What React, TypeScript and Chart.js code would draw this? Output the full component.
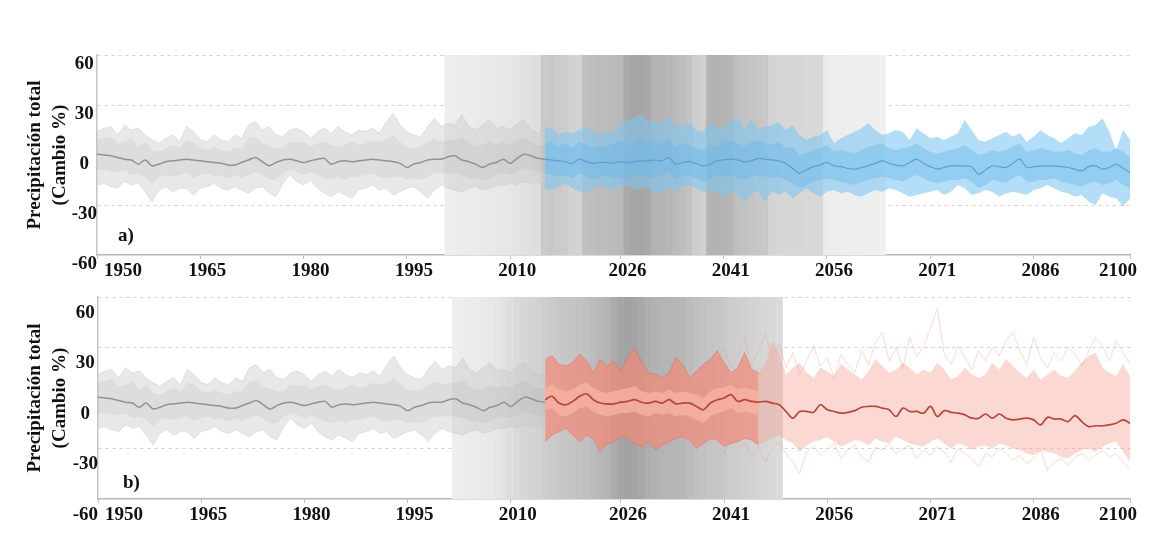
import React, { useEffect, useRef } from 'react';
import { Chart, registerables } from 'chart.js';

Chart.register(...registerables);

const FONT = '"Liberation Serif", "Times New Roman", serif';

// ---- categories / ticks ----
const HIST_START = 1950;
const PROJ_START = 2015;
const TICK_YEARS = [1950, 1965, 1980, 1995, 2010, 2026, 2041, 2056, 2071, 2086, 2100];
const Y_TITLE = ['Precipitación total', '(Cambio %)'];
const PANEL_LETTERS = ['a)', 'b)'];

// ---- historical ensemble (1950-2015) ----
const HIST_UP = [
  14, 16, 17, 12, 18, 15, 16, 12, 9, 7,
  10, 12, 8, 17, 14, 9, 8, 12, 9, 8,
  12, 10, 18, 20, 15, 17, 12, 11, 15, 16,
  14, 10, 14, 16, 13, 17, 14, 12, 15, 14,
  16, 13, 20, 25, 18, 14, 12, 11, 17, 22,
  17, 19, 18, 24, 17, 15, 18, 21, 16, 17,
  15, 19, 21, 16, 13, 15,
];
const HIST_LO = [
  -18, -17, -19, -20, -16, -18, -17, -22, -28, -21,
  -19, -22, -20, -20, -24, -20, -19, -17, -20, -21,
  -19, -21, -23, -20, -19, -23, -25, -17, -12, -16,
  -18, -15, -20, -23, -25, -22, -24, -26, -21, -20,
  -18, -21, -20, -24, -22, -20, -19, -22, -26, -21,
  -18, -20, -21, -22, -20, -19, -21, -20, -18, -18,
  -17, -18, -16, -17, -16, -18,
];
const HIST_IN_UP = [
  9, 10, 11, 7, 8, 10, 5, 8, 3, 2,
  4, 6, 4, 9, 8, 4, 3, 5, 3, 2,
  4, 4, 10, 11, 7, 6, 4, 4, 8, 7,
  8, 5, 7, 8, 6, 5, 6, 8, 6, 7,
  9, 8, 9, 12, 8, 5, 4, 5, 8, 10,
  8, 9, 9, 11, 7, 5, 6, 8, 6, 8,
  6, 9, 10, 8, 6, 6,
];
const HIST_IN_LO = [
  -9, -9, -10, -10, -9, -12, -11, -13, -17, -13,
  -12, -13, -12, -11, -14, -12, -11, -13, -12, -14,
  -12, -14, -12, -10, -12, -15, -15, -11, -9, -10,
  -12, -10, -12, -14, -15, -13, -15, -13, -13, -12,
  -11, -13, -14, -13, -13, -15, -14, -15, -13, -11,
  -11, -11, -11, -12, -14, -14, -15, -14, -12, -11,
  -12, -10, -8, -9, -10, -11,
];
const HIST_MED = [
  0.5, 0, -0.5, -1.5, -2.5, -3, -5.5, -3, -6.5, -5.5,
  -4, -3.5, -3, -2.5, -3, -3.5, -4, -4.5, -5, -6,
  -6, -4.5, -3, -1.5, -4, -6.5, -4.5, -3, -2.5, -3.5,
  -4.5, -3.5, -2.5, -2, -5.5, -4, -3.5, -4, -3.5, -3,
  -2.5, -3, -3.5, -4, -5, -7.5, -5.5, -4.5, -3, -2.5,
  -2.5, -1, -0.5, -3, -4, -5.5, -7.5, -5.5, -4.5, -2.5,
  -5, -2, 0.5, -0.5, -2, -2.5,
];

// ---- panel a projection (2015-2100) ----
const BLUE_UP = [
  17, 16, 12, 14, 13, 15, 17, 14, 12, 15,
  13, 18, 21, 22, 25, 20, 21, 18, 23, 18,
  17, 19, 15, 14, 19, 16, 17, 20, 23, 15,
  21, 16, 17, 18, 20, 15, 18, 12, 9, 11,
  12, 15, 7, 10, 12, 14, 16, 19, 15, 12,
  13, 15, 14, 9, 16, 13, 10, 11, 9, 11,
  13, 21, 15, 9, 8, 10, 12, 14, 11, 13,
  8, 11, 15, 12, 10, 7, 10, 13, 12, 17,
  18, 22, 14, 3, 15, 9,
];
const BLUE_LO = [
  -20, -21, -19, -17, -20, -22, -23, -20, -18, -20,
  -21, -19, -18, -21, -20, -19, -24, -22, -20, -22,
  -19, -18, -20, -22, -21, -23, -25, -22, -24, -28,
  -24, -21, -28, -22, -24, -22, -26, -23, -20, -23,
  -25, -22, -21, -23, -22, -24, -25, -23, -21, -22,
  -20, -21, -23, -25, -24, -23, -22, -21, -24, -22,
  -18, -20, -24, -23, -21, -22, -25, -23, -22, -23,
  -24, -21, -20, -18, -20, -22, -23, -25, -24, -28,
  -30, -23, -25, -26, -31, -26,
];
const BLUE_IN_UP = [
  6, 8, 5, 7, 4, 8, 6, 4, 6, 5,
  7, 9, 6, 8, 11, 7, 9, 6, 10, 5,
  7, 6, 4, 3, 6, 5, 8, 9, 7, 5,
  8, 9, 7, 6, 8, 4, 5, 0, 1, 3,
  4, 6, 2, 3, 2, 1, 3, 5, 6, 7,
  4, 3, 4, 5, 7, 4, 2, 1, 2, 3,
  4, 6, 3, 0, 1, 3, 2, 3, 5, 7,
  2, 3, 4, 3, 2, 2, 3, 1, 0, 3,
  4, 2, 2, 4, 2, -1,
];
const BLUE_IN_LO = [
  -11, -12, -13, -12, -14, -11, -13, -15, -13, -12,
  -14, -13, -15, -12, -11, -13, -14, -12, -10, -15,
  -13, -12, -14, -16, -15, -12, -13, -12, -14, -15,
  -13, -12, -13, -14, -13, -15, -17, -20, -18, -16,
  -15, -14, -15, -16, -17, -18, -16, -15, -14, -13,
  -14, -15, -16, -14, -12, -14, -16, -17, -16, -15,
  -15, -14, -16, -20, -18, -15, -16, -17, -14, -12,
  -16, -16, -15, -15, -14, -16, -17, -18, -19, -17,
  -16, -18, -17, -15, -18, -20,
];
const BLUE_MED = [
  -2.5, -3, -3.5, -4, -5, -2.5, -4, -5, -4.5, -4.5,
  -5, -4, -4.5, -4, -3.5, -3.5, -3, -3.5, -1.5, -5.5,
  -4.5, -4, -5, -6.5, -5.5, -3.5, -3, -2.5, -3, -4,
  -3.5, -2, -2.5, -3, -3.5, -5, -8, -11, -9, -7,
  -6, -4.5, -6.5, -7, -8, -8.5, -7.5, -6.5, -5, -3.5,
  -5, -6, -6.5, -4.5, -2.5, -5, -7, -8.5, -7.5, -6.5,
  -6.5, -6.5, -7, -11.5, -9, -6.5, -7, -7.5, -5, -2.5,
  -7.5, -7, -6.5, -6.5, -6.5, -7, -7.5, -8.5, -9.5, -7,
  -6.5, -8.5, -7.5, -5.5, -8, -10.5,
];

// ---- panel b projection (2015-2100) ----
const RED_UP = [
  23, 25, 20, 19, 21, 26, 22, 15, 23, 19,
  22, 16, 24, 30, 21, 15, 14, 12, 15, 24,
  20, 12, 16, 20, 23, 28, 21, 15, 18, 27,
  17, 15, 20, 34, 27, 14, 18, 21, 15, 12,
  18, 16, 13, 20, 17, 14, 11, 16, 23, 19,
  15, 17, 21, 18, 14, 17, 15, 21, 17, 11,
  13, 18, 14, 12, 14, 21, 17, 23, 19, 15,
  12, 17, 11, 14, 17, 13, 12, 16, 21, 25,
  27, 18, 15, 13, 20, 13,
];
const RED_LO = [
  -26, -22, -20, -18, -22, -26, -22, -24, -32, -27,
  -26, -23, -24, -27, -29, -26, -31, -28, -26, -24,
  -23, -25, -30, -27, -24, -25, -29, -27, -26, -24,
  -25, -28, -26, -24, -22, -25, -27, -32, -28, -26,
  -25, -23, -26, -29, -27, -25, -26, -28, -24, -26,
  -27, -23, -25, -27, -28, -29, -26, -24, -27, -30,
  -27, -28, -31, -29, -28, -30, -27, -28, -30, -31,
  -33, -34, -31, -32, -33, -35, -36, -33, -31, -30,
  -32, -29, -27, -26, -32, -38,
];
const RED_MED = [
  -1, 1, -3, -4, -2, 1, 2.5, -1, -3, -3.5,
  -3.5, -2.5, -2, -1, -2.5, -3, -2, -3, -1, -3.5,
  -3, -3, -5, -7, -3, -1, 0, 2, -2, -1,
  -2, -2.5, -2, -3, -4, -8, -12, -8, -8, -8.5,
  -4, -7, -8, -9, -8.5, -7.5, -5.5, -5, -5, -6,
  -7, -11, -6, -8, -8, -9, -5, -11, -7.5, -8.5,
  -9, -10, -12, -12, -9.5, -12, -9.5, -12, -13, -12.5,
  -12, -13, -16, -11.5, -12.5, -12.5, -14, -10.5, -14, -17,
  -16.5, -16.5, -16, -15, -13, -15,
];
// near-term (2015-2046) central band
const RED_MID_UP = [
  6, 8, 5, 4, 5, 8, 9, 6, 4, 3,
  4, 5, 6, 7, 4, 3, 4, 3, 5, 3,
  4, 3, 2, 0, 4, 6, 6, 8, 5, 6,
  5, 4,
];
const RED_MID_LO = [
  -7, -6, -10, -11, -9, -6, -5, -8, -10, -11,
  -10, -9, -9, -8, -10, -11, -9, -10, -9, -11,
  -10, -11, -13, -15, -11, -9, -8, -6, -9, -8,
  -9, -10,
];
const NEAR_END = 2046;
// extreme members (2040-2100)
const MEMBER_START = 2040;
const RED_MAX_MEMBER = [
  22, 30, 18, 25, 35, 20, 28, 38, 24, 32,
  18, 27, 14, 22, 31, 19, 24, 12, 26, 20,
  15, 28, 20, 33, 39, 22, 30, 18, 36, 25,
  30, 42, 53, 26, 20, 31, 24, 17, 28, 22,
  30, 25, 34, 39, 28, 20, 36, 24, 18, 27,
  22, 30, 26, 19, 28, 36, 31, 22, 34, 27,
  20,
];
const RED_MIN_MEMBER = [
  -28, -33, -25, -30, -27, -35, -29, -38, -30, -26,
  -33, -38, -45, -32, -28, -34, -30, -27, -36, -31,
  -28, -35, -38, -29, -31, -27, -33, -30, -28, -36,
  -31, -34, -29, -32, -38, -30, -33, -36, -41, -33,
  -35, -30, -33, -37, -34, -39, -36, -31, -43, -38,
  -36, -40, -35, -33, -37, -34, -31, -35, -33, -38,
  -43,
];

// ---- background shading (grey level per year) ----
const SHADE_A_START = 2001;
const SHADE_A = [
  238, 237, 236, 236, 235, 234, 233, 232, 231, 230,
  228, 226, 224, 222, 202, 200, 202, 204, 210, 212,
  192, 190, 188, 188, 186, 184, 170, 166, 165, 168,
  178, 180, 182, 186, 190, 194, 205, 208, 180, 178,
  180, 182, 192, 194, 196, 198, 200, 212, 213, 214,
  214, 214, 215, 215, 216, 236, 237, 237, 238, 238,
  238, 239, 239, 240,
];
const SHADE_B_START = 2002;
const SHADE_B = [
  238, 237, 236, 235, 234, 232, 230, 226, 222, 218,
  214, 212, 210, 206, 202, 200, 198, 196, 194, 192,
  188, 184, 180, 172, 166, 162, 164, 168, 174, 178,
  180, 180, 182, 184, 188, 192, 194, 196, 198, 200,
  204, 206, 208, 210, 212, 214, 216, 218,
];

const pts = (start: number, vals: number[]) => vals.map((y, i) => ({ x: start + i, y }));
const NONE = 'rgba(0,0,0,0)';

function band(start: number, up: number[], lo: number[], fillColor: string, order: number, edge?: string) {
  const bw = edge ? 1 : 0;
  return [
    { type: 'line', data: pts(start, up), fill: '+1', backgroundColor: fillColor, borderColor: edge || NONE, borderWidth: bw, pointRadius: 0, tension: 0, order },
    { type: 'line', data: pts(start, lo), fill: false, backgroundColor: NONE, borderColor: edge || NONE, borderWidth: bw, pointRadius: 0, tension: 0, order },
  ];
}
function line(start: number, vals: number[], color: string, width: number, order: number, tension = 0) {
  return { type: 'line', data: pts(start, vals), fill: false, borderColor: color, borderWidth: width, pointRadius: 0, tension, order };
}
function shading(start: number, levels: number[]) {
  return {
    type: 'bar',
    data: levels.map((_, i) => ({ x: start + i, y: [-60, 60] })),
    backgroundColor: levels.map((g) => `rgb(${g},${g},${g})`),
    borderWidth: 0,
    barPercentage: 1,
    categoryPercentage: 1,
    order: 100,
  };
}

function histSets() {
  return [
    ...band(HIST_START, HIST_UP, HIST_LO, 'rgba(200,200,200,0.42)', 90, 'rgba(190,190,190,0.35)'),
    ...band(HIST_START, HIST_IN_UP, HIST_IN_LO, 'rgba(175,175,175,0.2)', 85),
    line(HIST_START, HIST_MED, '#939393', 1.5, 80, 0.3),
  ];
}

function datasetsA() {
  return [
    shading(SHADE_A_START, SHADE_A),
    ...histSets(),
    ...band(PROJ_START, BLUE_UP, BLUE_LO, 'rgba(125,198,242,0.58)', 70),
    ...band(PROJ_START, BLUE_IN_UP, BLUE_IN_LO, 'rgba(100,182,236,0.4)', 60),
    line(PROJ_START, BLUE_MED, '#5d9ed2', 1.2, 50, 0.3),
  ];
}
function datasetsB() {
  const n = NEAR_END - PROJ_START + 1;
  return [
    shading(SHADE_B_START, SHADE_B),
    ...histSets(),
    ...band(PROJ_START, RED_UP, RED_LO, 'rgba(246,165,148,0.42)', 70),
    ...band(PROJ_START, RED_UP.slice(0, n), RED_LO.slice(0, n), 'rgba(240,125,105,0.5)', 65, 'rgba(220,100,90,0.45)'),
    ...band(PROJ_START, RED_MID_UP, RED_MID_LO, 'rgba(248,180,165,0.75)', 60),
    line(MEMBER_START, RED_MAX_MEMBER, 'rgba(238,150,138,0.35)', 1, 55),
    line(MEMBER_START, RED_MIN_MEMBER, 'rgba(238,150,138,0.35)', 1, 55),
    line(PROJ_START, RED_MED, '#b8463c', 1.7, 50, 0.35),
  ];
}

const PANELS = [
  { letter: PANEL_LETTERS[0], datasets: datasetsA, height: 277, padTop: 47, yWidth: 89, xHeight: 30, yLabelOffset: 9, letterDx: 21, letterDy: 14 },
  { letter: PANEL_LETTERS[1], datasets: datasetsB, height: 256, padTop: 12, yWidth: 90, xHeight: 42, yLabelOffset: 16, letterDx: 25, letterDy: 11 },
];

function buildConfig(p: any): any {
  const tickFont = { family: FONT, size: 19, weight: 'bold' };
  return {
    type: 'line',
    data: { datasets: p.datasets() },
    options: {
      responsive: false,
      animation: false,
      events: [],
      layout: { padding: { top: p.padTop, right: 16, left: 0, bottom: 0 } },
      plugins: { legend: { display: false }, tooltip: { enabled: false } },
      scales: {
        x: {
          type: 'linear',
          min: 1950,
          max: 2100,
          offset: false,
          z: 1,
          afterBuildTicks: (s: any) => { s.ticks = TICK_YEARS.map((v) => ({ value: v })); },
          afterFit: (s: any) => { s.height = p.xHeight; s.paddingLeft = 0; s.paddingRight = 0; },
          grid: { display: true, drawOnChartArea: false, drawTicks: true, tickLength: 4, tickColor: '#bdbdbd', offset: false },
          border: { display: true, color: '#b8b8b8', width: 1.5 },
          ticks: {
            autoSkip: false, maxRotation: 0, minRotation: 0, align: 'inner', labelOffset: 7, padding: 1,
            color: '#111', font: tickFont, callback: (v: any) => String(v),
          },
        },
        y: {
          type: 'linear',
          min: -60,
          max: 60,
          z: 1,
          afterFit: (s: any) => { s.width = p.yWidth; s.paddingTop = 0; s.paddingBottom = 0; },
          grid: {
            drawTicks: false,
            lineWidth: 1,
            color: (ctx: any) => (ctx.tick && (ctx.tick.value === 0 || ctx.tick.value === -60) ? NONE : 'rgba(160,160,160,0.5)'),
          },
          border: { display: true, color: '#c4c4c4', width: 1.5, dash: [3, 4] },
          ticks: {
            stepSize: 30, padding: 0, crossAlign: 'center', labelOffset: p.yLabelOffset,
            color: '#111', font: tickFont,
          },
          title: {
            display: true, text: Y_TITLE, color: '#111',
            font: { family: FONT, size: 19, weight: 'bold', lineHeight: 1.32 },
            padding: { top: 14.5, bottom: 0 },
          },
        },
      },
    },
    plugins: [
      {
        id: 'panelLetter',
        afterDatasetsDraw(chart: any) {
          const { ctx, chartArea } = chart;
          ctx.save();
          ctx.font = `bold 19px ${FONT}`;
          ctx.fillStyle = '#111';
          ctx.textBaseline = 'alphabetic';
          ctx.textAlign = 'left';
          ctx.fillText(p.letter, chartArea.left + p.letterDx, chartArea.bottom - p.letterDy);
          ctx.restore();
        },
      },
    ],
  };
}

export default function App() {
  const refA = useRef<HTMLCanvasElement>(null);
  const refB = useRef<HTMLCanvasElement>(null);
  useEffect(() => {
    const charts = [
      new Chart(refA.current as HTMLCanvasElement, buildConfig(PANELS[0])),
      new Chart(refB.current as HTMLCanvasElement, buildConfig(PANELS[1])),
    ];
    return () => charts.forEach((c) => c.destroy());
  }, []);
  return (
    <div style={{ width: 1138 }}>
      <canvas ref={refA} width={1138} height={PANELS[0].height} style={{ display: 'block' }} />
      <canvas ref={refB} width={1138} height={PANELS[1].height} style={{ display: 'block' }} />
    </div>
  );
}
